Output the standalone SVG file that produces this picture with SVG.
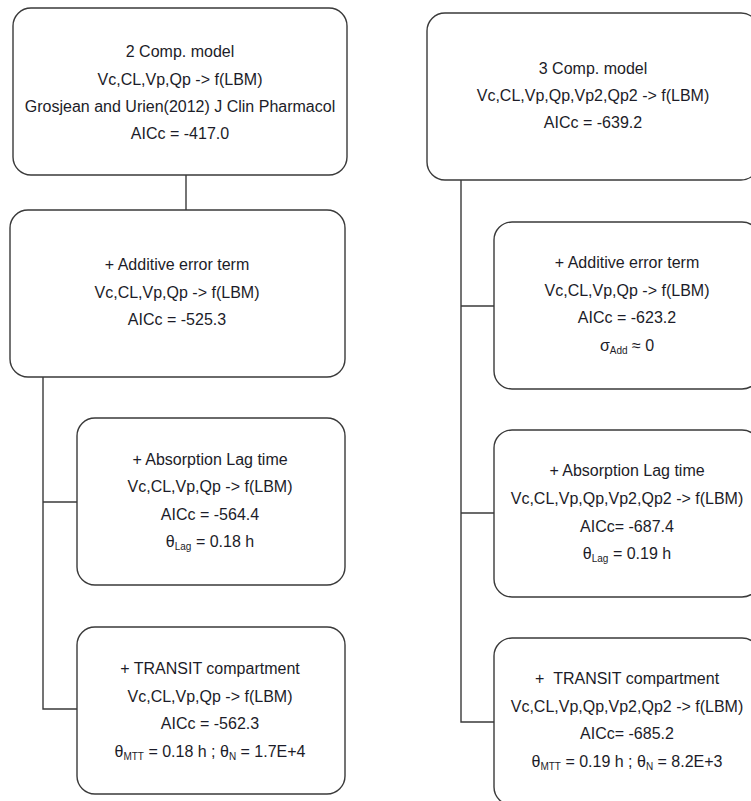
<svg xmlns="http://www.w3.org/2000/svg" width="751" height="801" viewBox="0 0 751 801">
<style>
.box{fill:#fff;stroke:#3a3a3a;stroke-width:1.4}
.t{font-family:"Liberation Sans",Arial,sans-serif;font-size:16px;fill:#1c1c28;text-anchor:middle}
.s{font-size:10px}
.c{stroke:#3a3a3a;stroke-width:1.4;fill:none}
</style>
<rect width="751" height="801" fill="#fff"/>
<g id="connectors">
<line class="c" x1="186" y1="175" x2="186" y2="210"/>
<polyline class="c" points="43,377 43,709 77,709"/>
<line class="c" x1="43" y1="502" x2="77" y2="502"/>
<polyline class="c" points="461,180 461,722 494,722"/>
<line class="c" x1="461" y1="306" x2="494" y2="306"/>
<line class="c" x1="461" y1="513" x2="494" y2="513"/>
</g>
<g id="n2comp">
<rect class="box" x="13" y="8" width="334" height="167" rx="18"/>
<text class="t" x="180" y="57">2 Comp. model</text>
<text class="t" x="180" y="85">Vc,CL,Vp,Qp -&gt; f(LBM)</text>
<text class="t" x="180" y="112">Grosjean and Urien(2012) J Clin Pharmacol</text>
<text class="t" x="180" y="139">AICc = -417.0</text>
</g>
<g id="n2add">
<rect class="box" x="10" y="210" width="335" height="167" rx="18"/>
<text class="t" x="177" y="270">+ Additive error term</text>
<text class="t" x="177" y="298">Vc,CL,Vp,Qp -&gt; f(LBM)</text>
<text class="t" x="177" y="325">AICc = -525.3</text>
</g>
<g id="n2lag">
<rect class="box" x="77" y="418" width="268" height="167" rx="18"/>
<text class="t" x="210" y="465">+ Absorption Lag time</text>
<text class="t" x="210" y="492">Vc,CL,Vp,Qp -&gt; f(LBM)</text>
<text class="t" x="210" y="520">AICc = -564.4</text>
<text class="t" x="210" y="547">θ<tspan class="s" dy="3">Lag</tspan><tspan dy="-3"> = 0.18 h</tspan></text>
</g>
<g id="n2transit">
<rect class="box" x="77" y="627" width="268" height="167" rx="18"/>
<text class="t" x="210" y="674">+ TRANSIT compartment</text>
<text class="t" x="210" y="702">Vc,CL,Vp,Qp -&gt; f(LBM)</text>
<text class="t" x="210" y="729">AICc = -562.3</text>
<text class="t" x="210" y="757">θ<tspan class="s" dy="3">MTT</tspan><tspan dy="-3"> = 0.18 h ; θ</tspan><tspan class="s" dy="3">N</tspan><tspan dy="-3"> = 1.7E+4</tspan></text>
</g>
<g id="n3comp">
<rect class="box" x="427" y="13" width="332" height="167" rx="18"/>
<text class="t" x="593" y="74">3 Comp. model</text>
<text class="t" x="593" y="101">Vc,CL,Vp,Qp,Vp2,Qp2 -&gt; f(LBM)</text>
<text class="t" x="593" y="128">AICc = -639.2</text>
</g>
<g id="n3add">
<rect class="box" x="494" y="222" width="266" height="167" rx="18"/>
<text class="t" x="627" y="268">+ Additive error term</text>
<text class="t" x="627" y="296">Vc,CL,Vp,Qp -&gt; f(LBM)</text>
<text class="t" x="627" y="323">AICc = -623.2</text>
<text class="t" x="627" y="351">σ<tspan class="s" dy="3">Add</tspan><tspan dy="-3"> ≈ 0</tspan></text>
</g>
<g id="n3lag">
<rect class="box" x="494" y="430" width="266" height="167" rx="18"/>
<text class="t" x="627" y="476">+ Absorption Lag time</text>
<text class="t" x="627" y="504">Vc,CL,Vp,Qp,Vp2,Qp2 -&gt; f(LBM)</text>
<text class="t" x="627" y="532">AICc= -687.4</text>
<text class="t" x="627" y="559">θ<tspan class="s" dy="3">Lag</tspan><tspan dy="-3"> = 0.19 h</tspan></text>
</g>
<g id="n3transit">
<rect class="box" x="494" y="638" width="266" height="167" rx="18"/>
<text class="t" x="627" y="684">+ &#160;TRANSIT compartment</text>
<text class="t" x="627" y="712">Vc,CL,Vp,Qp,Vp2,Qp2 -&gt; f(LBM)</text>
<text class="t" x="627" y="739">AICc= -685.2</text>
<text class="t" x="627" y="767">θ<tspan class="s" dy="3">MTT</tspan><tspan dy="-3"> = 0.19 h ; θ</tspan><tspan class="s" dy="3">N</tspan><tspan dy="-3"> = 8.2E+3</tspan></text>
</g>
</svg>
